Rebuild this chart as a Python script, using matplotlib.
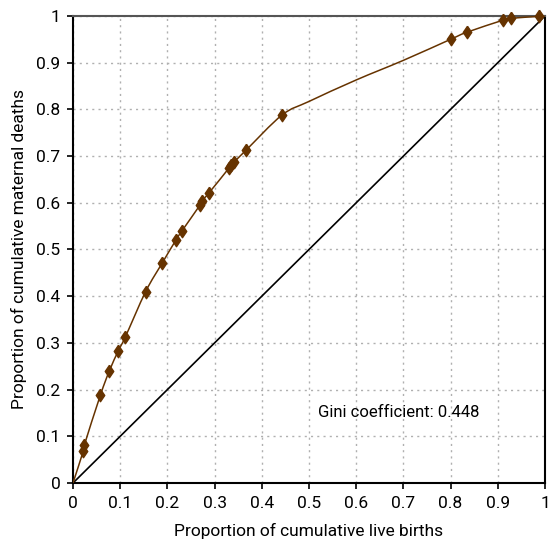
import matplotlib
matplotlib.use("Agg")
import matplotlib.pyplot as plt
import numpy as np
from matplotlib.path import Path
from matplotlib.patches import PathPatch

# cumulative proportions (marked points)
births = [0.022, 0.024, 0.058, 0.077, 0.096, 0.111, 0.154, 0.189, 0.218, 0.231,
          0.269, 0.273, 0.288, 0.331, 0.335, 0.341, 0.367, 0.443,
          0.800, 0.834, 0.911, 0.927, 0.987]
deaths = [0.069, 0.081, 0.188, 0.240, 0.283, 0.313, 0.410, 0.471, 0.520, 0.540,
          0.595, 0.604, 0.621, 0.675, 0.681, 0.687, 0.713, 0.788,
          0.950, 0.965, 0.991, 0.995, 0.999]
# unmarked points the curve passes through between 0.443 and 0.800
curve_x = [0.500, 0.600, 0.700]
curve_y = [0.817, 0.863, 0.905]
gini = 0.448

BROWN = "#663300"

plt.rcParams["font.family"] = ["Roboto", "DejaVu Sans"]

fig = plt.figure(figsize=(5.5, 5.49), dpi=100)
ax = fig.add_axes([0.1327, 0.1202, 0.8582, 0.8507])

# curve starts at origin and ends at (1, 1)
allx = [0.0] + births + curve_x + [1.0]
ally = [0.0] + deaths + curve_y + [1.0]
order = np.argsort(allx, kind="stable")
pts = np.column_stack([np.array(allx)[order], np.array(ally)[order]])

# smoothed line as cubic Bezier segments (Catmull-Rom style control points)
verts = [pts[0]]
codes = [Path.MOVETO]
n = len(pts)
for i in range(n - 1):
    p0 = pts[max(i - 1, 0)]
    p1 = pts[i]
    p2 = pts[i + 1]
    p3 = pts[min(i + 2, n - 1)]
    c1 = p1 + (p2 - p0) / 6.0
    c2 = p2 - (p3 - p1) / 6.0
    verts += [c1, c2, p2]
    codes += [Path.CURVE4] * 3
ax.add_patch(PathPatch(Path(verts, codes), facecolor="none", edgecolor=BROWN, lw=1.1, zorder=3))

diamond = [(0, 1), (0.68, 0), (0, -1), (-0.68, 0), (0, 1)]
ax.plot(births, deaths, linestyle="none", marker=diamond, markersize=9,
        color=BROWN, zorder=4, clip_on=False)

# line of equality
ax.plot([0, 1], [0, 1], color="black", lw=1.2, zorder=2)

ax.text(0.519, 0.152, f"Gini coefficient: {gini}", fontsize=12, va="center", ha="left")

ax.set_xlim(0, 1)
ax.set_ylim(0, 1)
ticks = np.round(np.arange(0, 1.01, 0.1), 1)
labels = ["0" if t == 0 else ("1" if t == 1 else f"{t:g}") for t in ticks]
ax.set_xticks(ticks)
ax.set_xticklabels(labels)
ax.set_yticks(ticks)
ax.set_yticklabels(labels)
ax.tick_params(labelsize=12.5, length=4, width=1.2, direction="out", pad=5)

ax.grid(True, linestyle=(0, (1.5, 3)), color="#b0b0b0", lw=1)
ax.set_axisbelow(True)

for s in ["left", "bottom", "right"]:
    ax.spines[s].set_color("black")
    ax.spines[s].set_linewidth(1.5)
ax.spines["top"].set_color("#555555")
ax.spines["top"].set_linewidth(1.5)

ax.set_xlabel("Proportion of cumulative live births", fontsize=12.5, labelpad=9)
ax.set_ylabel("Proportion of cumulative maternal deaths", fontsize=12.5, labelpad=7)

fig.savefig("out.png", dpi=100)
